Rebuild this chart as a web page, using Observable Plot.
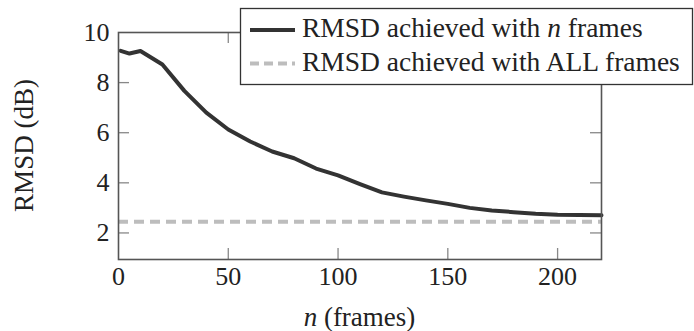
<!DOCTYPE html>
<html><head><meta charset="utf-8">
<script src="https://cdn.jsdelivr.net/npm/d3@7"></script>
<script src="https://cdn.jsdelivr.net/npm/@observablehq/plot@0.6"></script>
<style>body{margin:0;background:#fff} #chart{width:694px;height:331px}</style>
</head><body><div id="chart"></div>
<script>
const frames = [1, 5, 10, 20, 30, 40, 50, 60, 70, 80, 90, 100, 110, 120, 130, 140, 150, 160, 170, 180, 190, 200, 210, 220];
const rmsd   = [9.27, 9.16, 9.26, 8.72, 7.67, 6.8, 6.13, 5.65, 5.25, 4.98, 4.57, 4.3, 3.95, 3.62, 3.45, 3.3, 3.16, 3.0, 2.9, 2.83, 2.77, 2.73, 2.72, 2.71];
const rmsdAll = 2.45;
const xTicks = [0, 50, 100, 150, 200];
const yTicks = [2, 4, 6, 8, 10];
const xDomain = [0, 220];
const yDomain = [0.94, 10];
const legendLabels = ["RMSD achieved with ", "n", " frames", "RMSD achieved with ALL frames"];
const yLabel = "RMSD (dB)";
const xLabelParts = ["n", " (frames)"];

const data = frames.map((n, i) => ({n, rmsd: rmsd[i]}));
const FONT = "'Liberation Serif', 'Times New Roman', serif";
const TL = 11;

const plot = Plot.plot({
  width: 694, height: 331,
  marginLeft: 118, marginRight: 93, marginTop: 32, marginBottom: 72,
  x: {domain: xDomain},
  y: {domain: yDomain},
  style: {fontFamily: FONT, fontSize: "26px", color: "#222", background: "white", overflow: "visible"},
  marks: [
    Plot.ruleY([rmsdAll], {stroke: "#bdbdbd", strokeWidth: 4, strokeDasharray: "10,6"}),
    Plot.line(data, {x: "n", y: "rmsd", stroke: "#333", strokeWidth: 4, strokeLinejoin: "round"}),
    Plot.ruleX(xTicks.filter(d => d > xDomain[0]), {x: d => d, y1: yDomain[0], y2: yDomain[0], insetTop: -TL, stroke: "#888", strokeWidth: 1.3}),
    Plot.ruleX(xTicks.filter(d => d > xDomain[0]), {x: d => d, y1: yDomain[1], y2: yDomain[1], insetBottom: -TL, stroke: "#888", strokeWidth: 1.3}),
    Plot.ruleY(yTicks.filter(d => d < yDomain[1]), {y: d => d, x1: xDomain[0], x2: xDomain[0], insetRight: -TL, stroke: "#888", strokeWidth: 1.3}),
    Plot.ruleY(yTicks.filter(d => d < yDomain[1]), {y: d => d, x1: xDomain[1], x2: xDomain[1], insetLeft: -TL, stroke: "#888", strokeWidth: 1.3}),
    Plot.frame({stroke: "#555", strokeWidth: 1.6}),
    Plot.axisX(xTicks, {anchor: "bottom", tickSize: 0, tickPadding: 7, fontSize: 26, label: null}),
    Plot.axisY(yTicks, {anchor: "left", tickSize: 0, tickPadding: 9, fontSize: 26, label: null})
  ]
});
document.getElementById("chart").appendChild(plot);

const svg = d3.select(plot);
// y label
svg.append("text")
  .attr("transform", "translate(33,145.5) rotate(-90)")
  .attr("text-anchor", "middle")
  .attr("font-family", FONT).attr("font-size", 27).attr("fill", "#222")
  .text(yLabel);
// x label
const xl = svg.append("text")
  .attr("x", 359.5).attr("y", 326)
  .attr("text-anchor", "middle")
  .attr("font-family", FONT).attr("font-size", 27).attr("fill", "#222");
xl.append("tspan").attr("font-style", "italic").text(xLabelParts[0]);
xl.append("tspan").text(xLabelParts[1]);

// legend
const lg = svg.append("g").attr("text-anchor", "start");
lg.append("rect").attr("x", 240.5).attr("y", 8.5).attr("width", 452).attr("height", 76)
  .attr("fill", "white").attr("stroke", "#333").attr("stroke-width", 1.3);
lg.append("line").attr("x1", 250).attr("x2", 295).attr("y1", 30).attr("y2", 30)
  .attr("stroke", "#333").attr("stroke-width", 4);
lg.append("line").attr("x1", 250).attr("x2", 295).attr("y1", 63.5).attr("y2", 63.5)
  .attr("stroke", "#bdbdbd").attr("stroke-width", 4).attr("stroke-dasharray", "9,5");
const t1 = lg.append("text").attr("x", 302).attr("y", 36.5).attr("text-anchor", "start")
  .attr("font-family", FONT).attr("font-size", 27.5).attr("fill", "#222");
t1.append("tspan").text(legendLabels[0]);
t1.append("tspan").attr("font-style", "italic").text(legendLabels[1]);
t1.append("tspan").text(legendLabels[2]);
lg.append("text").attr("x", 302).attr("y", 70.5).attr("text-anchor", "start")
  .attr("font-family", FONT).attr("font-size", 27.5).attr("fill", "#222")
  .text(legendLabels[3]);
</script>
</body></html>
